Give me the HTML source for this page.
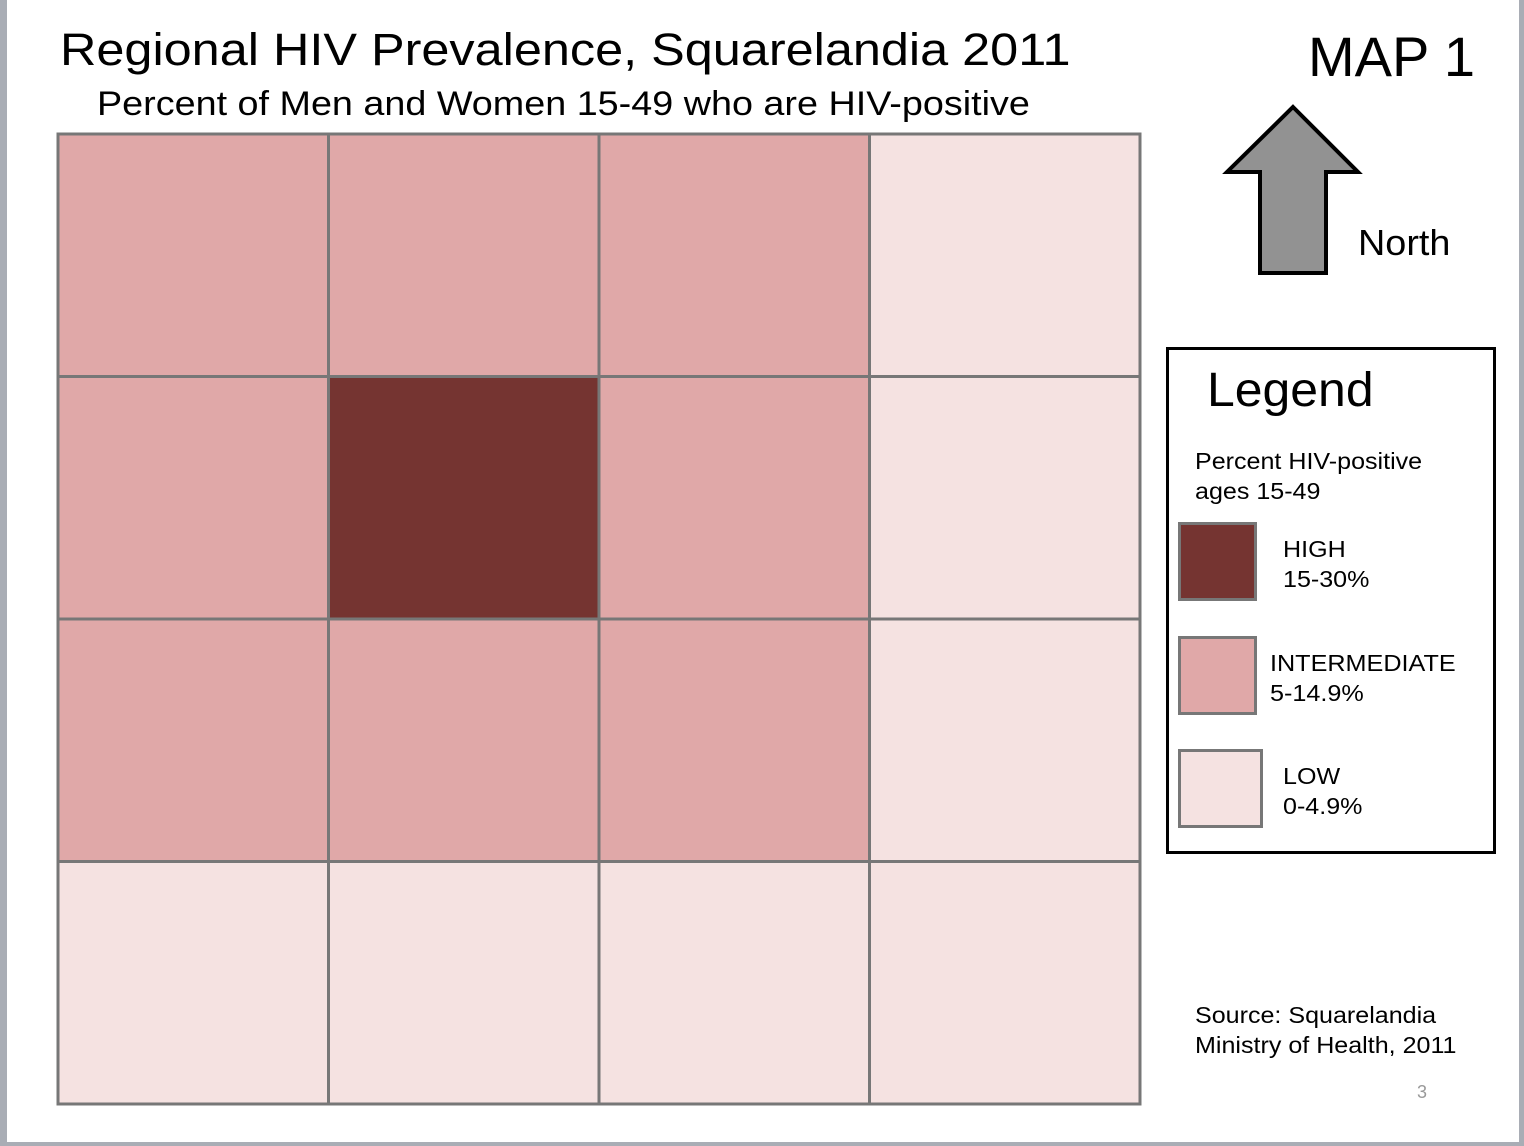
<!DOCTYPE html>
<html><head><meta charset="utf-8"><style>
body{margin:0;width:1524px;height:1146px;background:#fff;position:relative;overflow:hidden;font-family:"Liberation Sans",sans-serif;color:#000}
.t{position:absolute;white-space:nowrap;transform-origin:0 0}
</style></head><body>
<div style="position:absolute;left:0;top:0;width:7px;height:1146px;background:#a9adb5"></div>
<div style="position:absolute;left:1519px;top:0;width:5px;height:1146px;background:#a9adb5"></div>
<div style="position:absolute;left:0;top:1142px;width:1524px;height:4px;background:#a9adb5"></div>
<div class="t" style="left:60px;top:24px;font-size:45px;transform:scaleX(1.12)">Regional HIV Prevalence, Squarelandia 2011</div>
<div class="t" style="left:97px;top:85px;font-size:34px;transform:scaleX(1.11)">Percent of Men and Women 15-49 who are HIV-positive</div>
<div class="t" style="left:1308px;top:24px;font-size:56px">MAP 1</div>
<svg style="position:absolute;left:0;top:0" width="1524" height="1146">
<polygon points="1293,107 1358,172 1326,172 1326,273 1260,273 1260,172 1227,172" fill="#929292" stroke="#000" stroke-width="4"/>
</svg>
<div class="t" style="left:1358px;top:222px;font-size:36px;transform:scaleX(1.05)">North</div>
<svg id="map" style="position:absolute;left:0;top:0" width="1524" height="1146"></svg>
<div style="position:absolute;left:1166px;top:347px;width:330px;height:507px;border:3px solid #000;box-sizing:border-box"></div>
<div class="t" style="left:1207px;top:363px;font-size:48px;transform:scaleX(1.04)">Legend</div>
<div class="t" style="left:1195px;top:446px;font-size:23px;line-height:30px;transform:scaleX(1.09)">Percent HIV-positive<br>ages 15-49</div>
<div style="position:absolute;left:1178px;top:522px;width:79px;height:79px;background:#753431;border:3px solid #777;box-sizing:border-box"></div>
<div class="t" style="left:1283px;top:534px;font-size:23px;line-height:30px;transform:scaleX(1.09)">HIGH<br>15-30%</div>
<div style="position:absolute;left:1178px;top:636px;width:79px;height:79px;background:#e0a8a8;border:3px solid #777;box-sizing:border-box"></div>
<div class="t" style="left:1270px;top:648px;font-size:23px;line-height:30px;transform:scaleX(1.095)">INTERMEDIATE<br>5-14.9%</div>
<div style="position:absolute;left:1178px;top:749px;width:85px;height:79px;background:#f5e2e1;border:3px solid #777;box-sizing:border-box"></div>
<div class="t" style="left:1283px;top:761px;font-size:23px;line-height:30px;transform:scaleX(1.09)">LOW<br>0-4.9%</div>
<div class="t" style="left:1195px;top:1000px;font-size:23px;line-height:30px;transform:scaleX(1.09)">Source: Squarelandia<br>Ministry of Health, 2011</div>
<div class="t" style="left:1417px;top:1082px;font-size:18px;color:#999">3</div>
<script>
const rows = [0,1,2,3];
const cols = [0,1,2,3];
const levels = [
  ["intermediate","intermediate","intermediate","low"],
  ["intermediate","high","intermediate","low"],
  ["intermediate","intermediate","intermediate","low"],
  ["low","low","low","low"]
];
const colorOf = {high:"#753431", intermediate:"#e0a8a8", low:"#f5e2e1"};
const x0=58, y0=134, W=1082, H=970;
const cw=W/cols.length, rh=H/rows.length;
const svg=document.getElementById('map');
const ns="http://www.w3.org/2000/svg";
rows.forEach(r=>cols.forEach(c=>{
  const rect=document.createElementNS(ns,'rect');
  rect.setAttribute('x',x0+c*cw);rect.setAttribute('y',y0+r*rh);
  rect.setAttribute('width',cw);rect.setAttribute('height',rh);
  rect.setAttribute('fill',colorOf[levels[r][c]]);
  rect.setAttribute('stroke','#777');rect.setAttribute('stroke-width','3');
  
  
  svg.appendChild(rect);
}));
</script>
</body></html>
